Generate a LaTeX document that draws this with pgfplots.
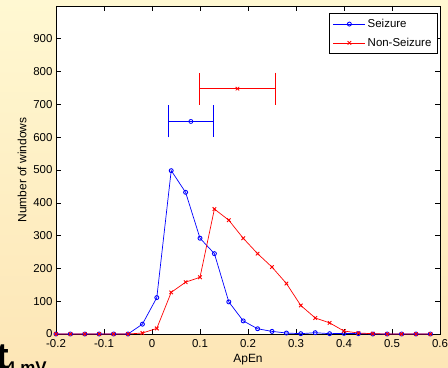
\documentclass[border=0pt]{standalone}
\usepackage{pgfplots}
\pgfplotsset{compat=1.18}
\usepackage{fontspec}
\setmainfont{Liberation Sans}
\definecolor{bgtop}{HTML}{FFF8D2}
\definecolor{bgbot}{HTML}{FDE6B6}
\definecolor{myblue}{HTML}{0000FF}
\definecolor{myred}{HTML}{FF0000}
\begin{document}
\begin{tikzpicture}[x=1bp,y=1bp]
\useasboundingbox (0,0) rectangle (448,367);
\clip (0,0) rectangle (448,367);
\shade[top color=bgtop, bottom color=bgbot] (0,0) rectangle (448,367);
\begin{axis}[
  scale only axis, width=384bp, height=328bp,
  at={(56bp,33bp)}, anchor=south west,
  xmin=-0.2, xmax=0.6, ymin=0, ymax=1000,
  xtick={-0.2,-0.1,0,0.1,0.2,0.3,0.4,0.5,0.6},
  ytick={0,100,200,300,400,500,600,700,800,900},
  xticklabels={-0.2,-0.1,0,0.1,0.2,0.3,0.4,0.5,0.6},
  tick align=inside, major tick length=5bp,
  tick style={black, line width=0.6pt},
  axis line style={black, line width=0.8pt},
  axis background/.style={fill=white},
  tick label style={font=\fontsize{11.5}{12}\selectfont},
  xticklabel style={yshift=-2bp},
  /pgf/number format/assume math mode=true,
  xlabel={ApEn}, ylabel={Number of windows},
  label style={font=\fontsize{12}{13}\selectfont},
  xlabel style={anchor=center, at={(axis description cs:0.5,-0.079)}},
  ylabel style={anchor=center, at={(axis description cs:-0.0885,0.5)}},
  legend style={at={(0.994,0.979)}, anchor=north east, draw=black, line width=0.6pt,
    font=\fontsize{11.5}{12}\selectfont, cells={anchor=west}, row sep=5bp,
    inner xsep=4bp, inner ysep=4bp},
  legend image code/.code={\draw[mark repeat=2,mark phase=2,#1] plot coordinates {(0bp,0bp) (16bp,0bp) (32bp,0bp)};},
  legend cell align=left,
  clip=false,
]
\addplot[myblue, line width=0.7pt, mark=o, mark size=2bp, mark options={line width=0.9pt}] coordinates {
(-0.20,0) (-0.17,0) (-0.14,0) (-0.11,0) (-0.08,0) (-0.05,0) (-0.02,30) (0.01,111)
(0.04,498) (0.07,432) (0.10,292) (0.13,245) (0.16,98) (0.19,40) (0.22,16) (0.25,8)
(0.28,3) (0.31,1) (0.34,4) (0.37,1) (0.40,2) (0.43,1) (0.46,0) (0.49,0) (0.52,0) (0.55,0) (0.58,0)};
\addlegendentry{Seizure}
\addplot[myred, line width=0.7pt, mark=x, mark size=2.5bp, mark options={line width=0.9pt}] coordinates {
(-0.20,0) (-0.17,0) (-0.14,0) (-0.11,0) (-0.08,0) (-0.05,0) (-0.02,3) (0.01,17)
(0.04,127) (0.07,158) (0.10,173) (0.13,381) (0.16,347) (0.19,292) (0.22,245) (0.25,204)
(0.28,154) (0.31,87) (0.34,49) (0.37,34) (0.40,9) (0.43,3) (0.46,1) (0.49,0) (0.52,0) (0.55,0) (0.58,0)};
\addlegendentry{Non-Seizure}
\addplot[myblue, line width=0.8pt, mark=o, mark size=2bp, forget plot,
  error bars/.cd, x dir=both, x explicit, error mark=|,
  error bar style={myblue, line width=0.8pt},
  error mark options={myblue, line width=0.8pt, mark size=16bp}]
  coordinates {(0.081,648) +- (0.047,0)};
\addplot[myred, line width=0.8pt, mark=x, mark size=2.5bp, forget plot,
  error bars/.cd, x dir=both, x explicit, error mark=|,
  error bar style={myred, line width=0.8pt},
  error mark options={myred, line width=0.8pt, mark size=16bp}]
  coordinates {(0.178,748) +- (0.0797,0)};
\end{axis}
\node[anchor=base west, inner sep=0, font=\bfseries\fontsize{38}{38}\selectfont] at (-4,-2) {t};
\node[anchor=base west, inner sep=0, font=\bfseries\fontsize{17}{17}\selectfont] at (6,-6) {4 mV};
\end{tikzpicture}
\end{document}
